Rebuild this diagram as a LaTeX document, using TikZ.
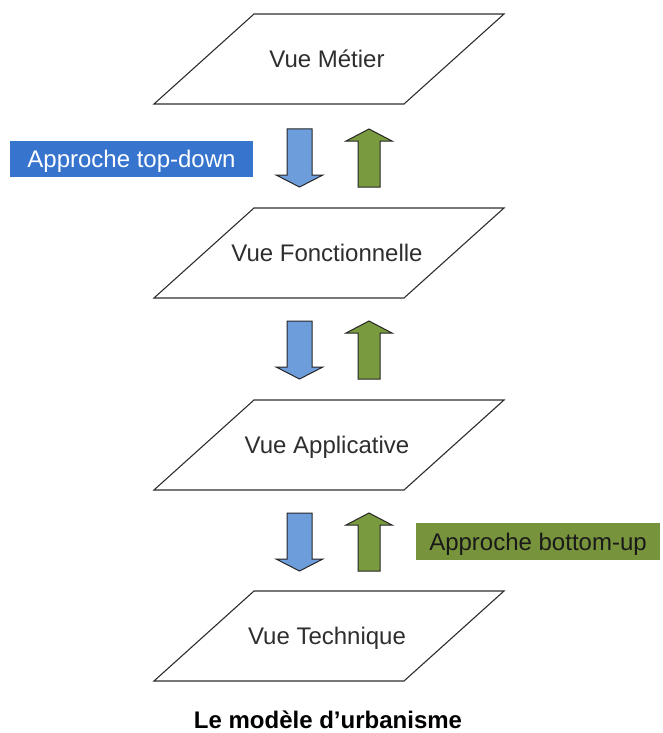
\documentclass[tikz,border=0pt]{standalone}
\usepackage{fontspec}
\setmainfont{Liberation Sans}
\definecolor{topdown}{HTML}{3674CE}
\definecolor{bottomup}{HTML}{77933C}
\definecolor{downfill}{HTML}{6D9DDB}
\definecolor{upfill}{HTML}{7A9A40}
\definecolor{ink}{HTML}{2E2E2E}
\tikzset{
 vue/.style={text=ink,text height=17pt,text depth=0pt,inner sep=0pt},
 planline/.style={draw=ink,line width=1.1pt,line join=miter},
 approche/.style={minimum width=243pt,minimum height=36pt,inner sep=0pt,text height=17pt,text depth=0pt},
 fleche/.style={draw=black!85,line width=1pt,line join=miter}
}

\begin{document}
\begin{tikzpicture}[x=1pt,y=-1pt,font=\fontsize{24}{28}\selectfont]
\useasboundingbox (0,0) rectangle (662,733);
% les quatre vues
\foreach \n/\cy/\t in {metier/59/Vue Métier,fonct/253/Vue Fonctionnelle,appli/445/Vue Applicative,techn/636/Vue Technique}{
 \node[vue] (\n) at (327,\cy) {\t};
 \draw[planline] (\n.center) ++(-173,45) -- ++(250,0) -- ++(100,-90) -- ++(-250,0) -- cycle;
}
% fleches entre les vues
\foreach \cy in {158,350,542}{
 \draw[fleche,fill=downfill] (287,\cy-29) -- (312,\cy-29) -- (312,\cy+17) -- (323,\cy+17) -- (299.5,\cy+29) -- (276,\cy+17) -- (287,\cy+17) -- cycle;
 \draw[fleche,fill=upfill] (358,\cy+29) -- (380,\cy+29) -- (380,\cy-17) -- (392,\cy-17) -- (369,\cy-29) -- (346,\cy-17) -- (358,\cy-17) -- cycle;
}
\node[approche,fill=topdown,text=white] (topdown) at (131.5,158.5) {Approche top-down};
\node[approche,fill=bottomup,text=black!90,minimum width=244pt,minimum height=37pt] (bottomup) at (538,541.5) {Approche bottom-up};
\node[vue,text=black,font=\fontsize{24}{28}\selectfont\bfseries] (titre) at (328,720) {Le modèle d’urbanisme};
\end{tikzpicture}
\end{document}
